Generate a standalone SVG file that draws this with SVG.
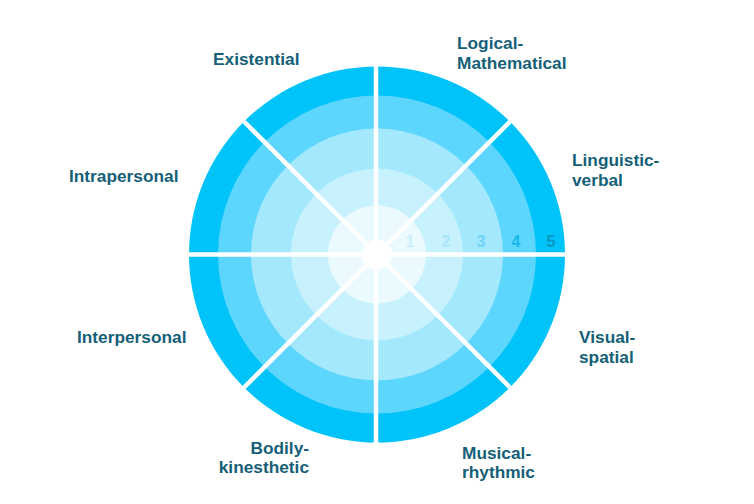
<svg xmlns="http://www.w3.org/2000/svg" width="754" height="504" viewBox="0 0 754 504">
<style>
.lbl{font-family:"Liberation Sans",Arial,Helvetica,sans-serif;font-weight:bold;font-size:17.3px;fill:#155F78}
.num{font-family:"Liberation Sans",Arial,Helvetica,sans-serif;font-weight:bold;font-size:16px;text-anchor:middle}
.div{stroke:#FFFFFF;stroke-width:4.5;stroke-linecap:butt}
</style>
<rect width="754" height="504" fill="#FFFFFF"/>
<g id="wheel">
<circle cx="377" cy="254.5" r="188" fill="#00C3FA"/>
<circle cx="377" cy="254.5" r="159" fill="#5DD6FD"/>
<circle cx="377" cy="254.5" r="126" fill="#A3E8FD"/>
<circle cx="377" cy="254.5" r="86" fill="#C8F1FE"/>
<circle cx="377" cy="254.5" r="49" fill="#EAFAFE"/>
</g>
<g id="connectors">
<line class="div" x1="376" y1="60" x2="376" y2="449"/>
<line class="div" x1="186" y1="254.5" x2="568" y2="254.5"/>
<line class="div" x1="244" y1="121.5" x2="510" y2="387.5"/>
<line class="div" x1="510" y1="121.5" x2="244" y2="387.5"/>
</g>
<circle id="center" cx="377" cy="254.5" r="15" fill="#FFFFFF"/>
<g id="scale">
<text class="num" x="410" y="246.5" fill="#C6EFFC">1</text>
<text class="num" x="446" y="246.5" fill="#A6E5FA">2</text>
<text class="num" x="481" y="246.5" fill="#6CD3F7">3</text>
<text class="num" x="516" y="246.5" fill="#17B6EC">4</text>
<text class="num" x="551" y="246.5" fill="#0A97C4">5</text>
</g>
<g id="existential"><text class="lbl" x="213" y="65">Existential</text></g>
<g id="logical"><text class="lbl" x="457" y="49">Logical-</text><text class="lbl" x="457" y="69">Mathematical</text></g>
<g id="linguistic"><text class="lbl" x="572" y="166">Linguistic-</text><text class="lbl" x="572" y="186">verbal</text></g>
<g id="intrapersonal"><text class="lbl" x="69" y="182">Intrapersonal</text></g>
<g id="interpersonal"><text class="lbl" x="77" y="343">Interpersonal</text></g>
<g id="visual"><text class="lbl" x="579" y="343">Visual-</text><text class="lbl" x="579" y="363">spatial</text></g>
<g id="bodily"><text class="lbl" x="309" y="454" text-anchor="end">Bodily-</text><text class="lbl" x="309" y="473" text-anchor="end">kinesthetic</text></g>
<g id="musical"><text class="lbl" x="462" y="459">Musical-</text><text class="lbl" x="462" y="478">rhythmic</text></g>
</svg>
